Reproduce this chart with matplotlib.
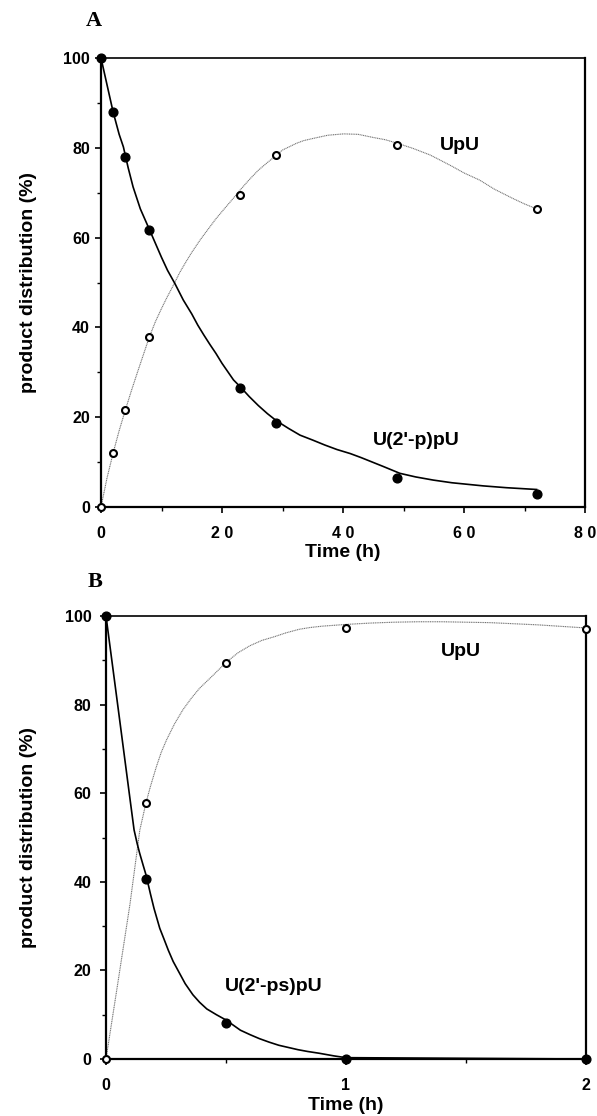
import matplotlib
matplotlib.use("Agg")
import matplotlib.pyplot as plt
from matplotlib.ticker import MultipleLocator

plt.rcParams['font.family'] = ['Liberation Sans', 'DejaVu Sans']
plt.rcParams['font.weight'] = 'bold'

# ---------------- Panel A data ----------------
timeA = [0, 2, 4, 8, 23, 29, 49, 72]
upA_2p = [100, 88, 78, 61.8, 26.4, 18.6, 6.5, 3.0]
upu_A = [0, 12.1, 21.6, 37.9, 69.4, 78.3, 80.7, 66.4]

# fitted curves
fitA_t_p = [0, 1, 2, 3, 3.7, 4.5, 5.3, 6.5, 8, 9, 10, 11, 12.2, 13.6, 15, 16, 17, 18,
            19, 20, 21.9, 23, 24.5, 26, 27.5, 29, 31, 32.9, 35, 37, 39, 41.2, 43,
            46.7, 49.4, 52, 54.9, 58, 63.2, 67, 72]
fitA_v_p = [100, 94, 88, 83, 80.2, 75.5, 71.3, 66.4, 61.8, 58.7, 55.6, 52.7, 49.8, 46.1,
            43, 40.5, 38.3, 36.2, 34.2, 32, 28.3, 26.8, 24.6, 22.6, 20.8, 19.2, 17.5,
            16, 14.9, 13.8, 12.8, 11.9, 11, 9.0, 7.5, 6.7, 6.0, 5.4, 4.7, 4.3, 3.9]
fitA_t_u = [0, 1, 2, 3, 4, 5, 6, 7, 8, 9, 10, 10.8, 11.5, 12.2, 13, 14, 15, 16.4, 17.5,
            19, 20.5, 21.9, 23, 24.5, 26, 27.4, 28.5, 30, 32.3, 33.5, 35.1, 37.5, 40.1,
            42.5, 45, 47, 49, 51.5, 54.4, 56, 58, 60, 62.6, 65, 68.1, 70, 72]
fitA_v_u = [0, 6.5, 12, 17, 21.5, 25.8, 29.9, 33.9, 37.9, 41.3, 44.2, 46.4, 48.2, 50,
            52.2, 54.5, 56.7, 59.5, 61.5, 64.2, 66.6, 68.8, 70.6, 72.9, 75, 76.6, 77.8,
            79.5, 81, 81.6, 82.1, 82.8, 83.1, 83, 82.3, 81.8, 81, 79.9, 78.4, 77.3,
            75.9, 74.4, 72.8, 70.8, 68.7, 67.5, 66.4]

xticksA = [0, 20, 40, 60, 80]
xticklabelsA = ["0", "2 0", "4 0", "6 0", "8 0"]

# ---------------- Panel B data ----------------
timeB = [0, 0.167, 0.5, 1, 2]
upB_2ps = [100, 40.6, 8.1, 0, 0]
upu_B = [0, 57.9, 89.5, 97.4, 97.0]

fitB_t_p = [0, 0.05, 0.1, 0.117, 0.13, 0.14, 0.155, 0.167, 0.185, 0.2, 0.224, 0.24,
            0.26, 0.28, 0.3, 0.33, 0.362, 0.39, 0.42, 0.46, 0.5, 0.56, 0.6, 0.639,
            0.68, 0.72, 0.76, 0.8, 0.84, 0.888, 0.95, 1.0, 2.0]
fitB_v_p = [100, 79.4, 58.7, 51.7, 48.6, 46.5, 43.7, 41.5, 37.3, 34, 29.5, 27.3,
            24.5, 22, 20, 17, 14.5, 12.8, 11.3, 10, 8.8, 6.5, 5.5, 4.6,
            3.8, 3.1, 2.6, 2.1, 1.7, 1.3, 0.7, 0.3, 0]
fitB_t_u = [0, 0.05, 0.1, 0.141, 0.167, 0.185, 0.21, 0.23, 0.252, 0.285, 0.32, 0.355,
            0.39, 0.44, 0.5, 0.55, 0.6, 0.65, 0.7, 0.75, 0.805, 0.85, 0.9, 0.95, 1.0,
            1.1, 1.2, 1.3, 1.4, 1.6, 1.8, 2.0]
fitB_v_u = [0, 17.4, 35, 51.7, 57.9, 61.5, 66, 69.2, 72, 75.6, 78.8, 81.4,
            83.7, 86.3, 89.5, 91.7, 93.3, 94.5, 95.3, 96.2, 97, 97.4, 97.7, 97.9, 98.1,
            98.4, 98.6, 98.7, 98.7, 98.5, 98, 97.3]

xticksB = [0, 1, 2]
yticks = [0, 20, 40, 60, 80, 100]

W, H = 597, 1116
fig = plt.figure(figsize=(W / 100, H / 100), dpi=100)

axA = fig.add_axes([101 / W, 1 - 507 / H, 484 / W, 449 / H])
axB = fig.add_axes([106 / W, 1 - 1059 / H, 480 / W, 443 / H])

dot_style = dict(color='0.45', lw=0.8, ls=(0, (1, 0.6)))
solid_style = dict(color='black', lw=1.2)
filled_m = dict(ls='none', marker='o', ms=6.3, mfc='black', mec='black', clip_on=False, zorder=5)
open_m = dict(ls='none', marker='o', ms=5, mfc='white', mec='black', mew=1.5, clip_on=False, zorder=6)


def style_axes(ax, ypad):
    for side in ['left', 'bottom', 'right']:
        ax.spines[side].set_linewidth(1.6)
    ax.spines['top'].set_linewidth(1.2)
    ax.tick_params(axis='both', which='major', direction='out', length=4.3, width=1.2,
                   labelsize=11.5, top=False, right=False)
    ax.tick_params(axis='both', which='minor', direction='out', length=3, width=1.0,
                   top=False, right=False)
    ax.tick_params(axis='x', which='major', pad=9.5)
    ax.tick_params(axis='y', which='major', pad=ypad)
    for lab in ax.get_xticklabels() + ax.get_yticklabels():
        lab.set_fontweight('bold')


# ---- Panel A ----
axA.plot(fitA_t_u, fitA_v_u, **dot_style)
axA.plot(fitA_t_p, fitA_v_p, **solid_style)
axA.plot(timeA, upu_A, **open_m)
axA.plot(timeA, upA_2p, **filled_m)
axA.set_xlim(0, 80)
axA.set_ylim(0, 100)
axA.set_xticks(xticksA)
axA.set_xticklabels(xticklabelsA)
axA.set_yticks(yticks)
axA.xaxis.set_minor_locator(MultipleLocator(10))
axA.yaxis.set_minor_locator(MultipleLocator(10))
style_axes(axA, 3.6)
axA.set_ylabel('product distribution (%)', fontsize=14, fontweight='bold')
axA.yaxis.set_label_coords(-0.132, 0.5)
axA.set_xlabel('Time (h)', fontsize=14, fontweight='bold')
axA.xaxis.set_label_coords(0.5, -0.082)
axA.text(59.3, 80.6, 'UpU', fontsize=14, fontweight='bold', ha='center', va='center')
axA.text(52.2, 14.9, "U(2'-p)pU", fontsize=14, fontweight='bold', ha='center', va='center')
fig.text(94 / W, 1 - 21 / H, 'A', family='Liberation Serif', fontsize=16,
         fontweight='bold', ha='center', va='center')

# ---- Panel B ----
axB.plot(fitB_t_u, fitB_v_u, **dot_style)
axB.plot(fitB_t_p, fitB_v_p, **solid_style)
axB.plot(timeB, upu_B, **open_m)
axB.plot(timeB, upB_2ps, **filled_m)
axB.set_xlim(0, 2)
axB.set_ylim(0, 100)
axB.set_xticks(xticksB)
axB.set_yticks(yticks)
axB.xaxis.set_minor_locator(MultipleLocator(0.5))
axB.yaxis.set_minor_locator(MultipleLocator(10))
style_axes(axB, 6)
axB.set_ylabel('product distribution (%)', fontsize=14, fontweight='bold')
axB.yaxis.set_label_coords(-0.144, 0.5)
axB.set_xlabel('Time (h)', fontsize=14, fontweight='bold')
axB.xaxis.set_label_coords(0.5, -0.085)
axB.text(1.48, 91.9, 'UpU', fontsize=14, fontweight='bold', ha='center', va='center')
axB.text(0.70, 16.3, "U(2'-ps)pU", fontsize=14, fontweight='bold', ha='center', va='center')
fig.text(95 / W, 1 - 582 / H, 'B', family='Liberation Serif', fontsize=16,
         fontweight='bold', ha='center', va='center')

fig.savefig('out.png', dpi=100)
